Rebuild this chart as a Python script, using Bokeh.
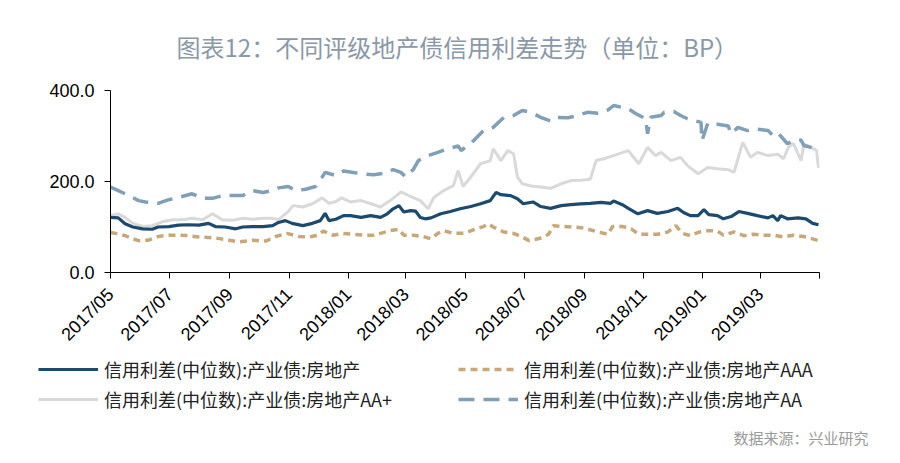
import math
import numpy as np
import pandas as pd
from bokeh.plotting import figure
from bokeh.layouts import column
from bokeh.models import Range1d, FixedTicker, Legend, LegendItem, Label, PrintfTickFormatter
from bokeh.embed import file_html
from bokeh.resources import INLINE

TITLE = "图表12：不同评级地产债信用利差走势（单位：BP）"
SOURCE = "数据来源：兴业研究"
START = "2017-05-01"
END = "2019-05-01"
TICK_DATES = ["2017-05-01", "2017-07-01", "2017-09-01", "2017-11-01", "2018-01-01", "2018-03-01",
              "2018-05-01", "2018-07-01", "2018-09-01", "2018-11-01", "2019-01-01", "2019-03-01",
              "2019-05-01"]
TICK_LABELS = ["2017/05", "2017/07", "2017/09", "2017/11", "2018/01", "2018/03",
               "2018/05", "2018/07", "2018/09", "2018/11", "2019/01", "2019/03", ""]
Y_TICKS = [0, 200, 400]

NAMES = ["信用利差(中位数):产业债:房地产",
         "信用利差(中位数):产业债:房地产AAA",
         "信用利差(中位数):产业债:房地产AA+",
         "信用利差(中位数):产业债:房地产AA"]

# days since 2017-05-01, values in BP
ALL_DAY = [0, 8, 15, 23, 33, 43, 49, 60, 70, 80, 91, 101, 108, 118, 129, 136, 146, 157, 167, 173,
           180, 187, 198, 208, 216, 221, 225, 232, 240, 247, 258, 268, 278, 285, 291, 297, 302, 309,
           314, 319, 324, 330, 340, 350, 360, 371, 381, 391, 397, 402, 412, 419, 425, 435, 443, 453,
           464, 474, 484, 494, 505, 515, 518, 527, 534, 543, 553, 563, 574, 584, 590, 597, 605, 611,
           616, 625, 631, 639, 647, 656, 666, 677, 682, 687, 690, 697, 708, 716, 723, 729]
ALL_VAL = [121, 120, 107, 100, 96, 95, 100, 101, 104, 105, 104, 108, 101, 100, 96, 100, 101, 101, 103, 110,
           114, 108, 103, 108, 114, 130, 114, 117, 125, 125, 121, 125, 121, 129, 140, 147, 133, 136,
           135, 121, 118, 120, 129, 134, 140, 145, 151, 158, 176, 171, 169, 162, 151, 155, 145, 141,
           147, 149, 151, 152, 154, 152, 157, 149, 140, 129, 136, 130, 134, 141, 132, 125, 125, 138,
           127, 125, 118, 123, 134, 130, 125, 120, 125, 114, 125, 118, 120, 118, 108, 105]

AAA_DAY = [0, 5, 15, 23, 29, 39, 49, 60, 70, 80, 91, 101, 111, 122, 132, 146, 160, 170, 182, 194,
           204, 214, 219, 229, 239, 250, 261, 271, 278, 288, 297, 302, 312, 322, 330, 337, 343, 353,
           364, 374, 384, 389, 394, 405, 415, 424, 431, 440, 446, 451, 456, 467, 477, 487, 502, 512,
           517, 527, 536, 544, 553, 563, 574, 582, 589, 597, 606, 616, 625, 631, 642, 652, 662, 673,
           683, 693, 703, 714, 723, 729]
AAA_VAL = [88, 86, 81, 74, 70, 71, 79, 82, 82, 81, 78, 77, 75, 71, 67, 71, 69, 79, 86, 79,
           78, 82, 91, 82, 86, 84, 82, 82, 86, 92, 95, 82, 82, 79, 74, 86, 92, 86,
           86, 94, 101, 107, 100, 89, 86, 78, 70, 74, 78, 84, 103, 101, 100, 98, 89, 84,
           101, 101, 96, 84, 84, 84, 89, 103, 86, 81, 89, 92, 91, 82, 89, 81, 84, 82,
           82, 78, 82, 79, 74, 70]

AAP_DAY = [0, 8, 15, 23, 33, 43, 54, 64, 74, 84, 95, 105, 115, 126, 136, 146, 157, 167, 173, 182,
           188, 198, 208, 218, 225, 232, 238, 247, 258, 268, 278, 288, 299, 309, 319, 327, 333, 343,
           353, 358, 363, 371, 381, 391, 394, 402, 409, 415, 419, 424, 433, 443, 453, 464, 474, 484,
           494, 500, 508, 518, 533, 544, 553, 561, 567, 577, 587, 594, 605, 615, 625, 636, 642, 651,
           659, 666, 677, 687, 693, 698, 703, 711, 714, 721, 727, 729]
AAP_VAL = [125, 129, 121, 108, 101, 103, 112, 116, 116, 119, 116, 129, 116, 115, 119, 117, 119, 119, 116, 132,
           147, 144, 151, 164, 152, 156, 164, 155, 158, 151, 144, 158, 177, 167, 158, 140, 165, 180,
           191, 224, 189, 210, 239, 246, 272, 246, 268, 261, 210, 195, 190, 188, 185, 195, 202, 203,
           205, 246, 250, 257, 268, 239, 275, 257, 264, 246, 253, 235, 217, 231, 228, 226, 220, 286,
           253, 264, 257, 260, 250, 275, 284, 246, 282, 275, 268, 230]

AA_DAY = [0, 8, 19, 29, 36, 49, 60, 70, 84, 95, 105, 115, 126, 136, 146, 157, 167, 173, 183, 191,
          201, 211, 218, 221, 232, 240, 250, 261, 271, 281, 291, 299, 304, 312, 317, 327, 337, 347,
          358, 361, 374, 384, 394, 405, 415, 424, 433, 443, 453, 458, 471, 481, 491, 502, 512, 518,
          533, 541, 551, 553, 556, 567, 570, 580, 587, 594, 601, 608, 609, 615, 625, 636, 639, 646,
          656, 666, 677, 683, 688, 697, 703, 711, 714, 721, 729]
AA_VAL = [188, 180, 169, 158, 155, 152, 160, 165, 173, 163, 163, 169, 169, 169, 180, 176, 180, 186, 189, 180,
          183, 189, 210, 220, 213, 223, 220, 216, 215, 218, 226, 220, 210, 227, 246, 257, 264, 272,
          278, 268, 290, 312, 319, 341, 345, 356, 352, 341, 333, 341, 340, 345, 352, 350, 357, 367,
          360, 349, 338, 305, 341, 345, 352, 354, 345, 338, 334, 330, 290, 328, 326, 322, 305, 319,
          312, 315, 312, 299, 305, 283, 290, 291, 279, 275, 268]

COLORS = ["#1c4a6e", "#c8a87a", "#d9d9d9", "#7fa0b6"]
STYLES = [dict(line_color=COLORS[0], line_width=3.2),
          dict(line_color=COLORS[1], line_width=3.5, line_dash="7 5"),
          dict(line_color=COLORS[2], line_width=3),
          dict(line_color=COLORS[3], line_width=3.5, line_dash="16 9")]


def to_dates(days):
    return pd.Timestamp(START) + pd.to_timedelta(days, unit="D")


def ms(d):
    return int(pd.Timestamp(d).value // 10**6)


# ---------------- main chart ----------------
p = figure(width=900, height=354, x_axis_type="datetime",
           x_range=Range1d(pd.Timestamp(START), pd.Timestamp(END)),
           y_range=Range1d(0, 400),
           output_backend="svg", toolbar_location=None,
           min_border_left=110, min_border_right=81, min_border_top=90, min_border_bottom=82)
p.outline_line_color = None
p.xgrid.visible = False
p.ygrid.visible = False

tick_ms = [ms(d) for d in TICK_DATES]
p.xaxis.ticker = FixedTicker(ticks=tick_ms)
p.xaxis.major_label_overrides = {t: lab for t, lab in zip(tick_ms, TICK_LABELS)}
p.xaxis.major_label_orientation = math.pi / 4
p.yaxis.ticker = FixedTicker(ticks=Y_TICKS)
p.yaxis.formatter = PrintfTickFormatter(format="%.1f")
for ax in (p.xaxis, p.yaxis):
    ax.axis_line_color = "#000000"
    ax.axis_line_width = 1
    ax.major_tick_line_color = "#000000"
    ax.major_tick_in = 0
    ax.major_tick_out = 6
    ax.minor_tick_line_color = None
    ax.major_label_text_font = "Liberation Sans"
    ax.major_label_text_font_size = "18px"
    ax.major_label_text_color = "#000000"
p.yaxis.major_label_standoff = 10
p.xaxis.major_label_standoff = 13

p.line(to_dates(AAP_DAY), AAP_VAL, **STYLES[2])
p.line(to_dates(AA_DAY), AA_VAL, **STYLES[3])
p.line(to_dates(AAA_DAY), AAA_VAL, **STYLES[1])
p.line(to_dates(ALL_DAY), ALL_VAL, **STYLES[0])

p.title.text = TITLE
p.title.align = "left"
p.title.offset = 66
p.title.vertical_align = "top"
p.title.text_font = "Noto Sans CJK SC"
p.title.text_font_size = "24px"
p.title.text_font_style = "normal"
p.title.text_color = "#8a99a8"
p.title.standoff = 50

# ---------------- legend + source strip ----------------
q = figure(width=900, height=109, x_range=Range1d(0, 900), y_range=Range1d(0, 109),
           output_backend="svg", toolbar_location=None,
           x_axis_location=None, y_axis_location=None,
           min_border_left=0, min_border_right=0, min_border_top=0, min_border_bottom=0)
q.outline_line_color = None
q.xgrid.visible = False
q.ygrid.visible = False

keys = [q.line(x=[0.0], y=[np.nan], **s) for s in STYLES]
legend = Legend(items=[LegendItem(label=n, renderers=[r]) for n, r in zip(NAMES, keys)],
                orientation="horizontal", ncols=2,
                location=(38, 51), padding=0, margin=0, spacing=4,
                glyph_width=60, glyph_height=20, label_height=24, label_width=350,
                label_standoff=6, label_text_font="Noto Sans CJK SC",
                label_text_font_size="18px", label_text_color="#222222",
                border_line_alpha=0, background_fill_alpha=0)
q.add_layout(legend, "center")

q.add_layout(Label(x=868, y=26, text=SOURCE, text_align="right", text_baseline="middle",
                   text_font="Noto Sans CJK SC", text_font_size="15px", text_color="#9a9a9a"))

open("out.html", "w").write(file_html(column(p, column(q, spacing=0), spacing=0), INLINE))
